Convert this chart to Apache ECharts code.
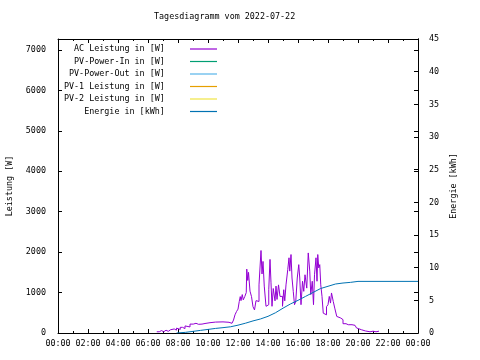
<!DOCTYPE html>
<html><head><meta charset="utf-8">
<script src="https://cdn.jsdelivr.net/npm/echarts@6/dist/echarts.min.js"></script>
<style>html,body{margin:0;padding:0;background:#fff}#c{width:480px;height:360px}</style>
</head><body><div id="c"></div>
<script>
const chartTitle = 'Tagesdiagramm vom 2022-07-22';
const xTickLabels = ['00:00','02:00','04:00','06:00','08:00','10:00','12:00','14:00','16:00','18:00','20:00','22:00','00:00'];
const seriesNames = ['AC Leistung in [W]','PV-Power-In in [W]','PV-Power-Out in [W]','PV-1 Leistung in [W]','PV-2 Leistung in [W]','Energie in [kWh]'];
const seriesColors = ['#9400d3','#009e73','#56b4e9','#e69f00','#f0e442','#0072b2'];
const leftAxisName = 'Leistung [W]';
const rightAxisName = 'Energie [kWh]';

const acTimes = ['06:35','06:45','06:54','07:03','07:12','07:21','07:30','07:36','07:45','07:54','08:01','08:09','08:18','08:28','08:36','08:48','09:01','09:12','09:22','09:36','09:48','10:08','10:30','11:00','11:24','11:30','11:36','11:42','11:48','11:54','12:00','12:05','12:09','12:12','12:17','12:21','12:27','12:33','12:35','12:39','12:42','12:48','12:54','13:00','13:06','13:12','13:18','13:24','13:32','13:36','13:40','13:45','13:52','13:57','14:03','14:08','14:12','14:16','14:21','14:28','14:32','14:36','14:42','14:48','14:58','15:03','15:07','15:12','15:19','15:24','15:27','15:32','15:36','15:41','15:46','15:51','15:57','16:03','16:07','16:12','16:18','16:23','16:28','16:35','16:41','16:47','16:51','16:57','17:02','17:06','17:12','17:16','17:19','17:23','17:27','17:31','17:36','17:41','17:48','17:54','18:00','18:05','18:10','18:14','18:21','18:27','18:35','18:42','18:51','19:00','19:12','19:21','19:28','19:36','19:48','19:54','20:01','20:14','20:30','20:48','21:00','21:12','21:24'];
const acPower = [30,60,30,70,40,80,50,100,70,120,90,140,110,175,150,220,240,215,220,235,255,270,275,265,270,240,250,320,450,530,590,780,900,800,950,820,900,1000,1580,1300,1500,1035,900,650,570,800,780,1190,2040,1460,1770,1160,660,700,1070,1820,1240,660,1100,795,1160,830,1190,905,660,1070,795,1190,1570,1860,1530,1940,1360,1030,700,780,1360,1690,1360,700,1280,1030,1440,1110,1980,1530,950,1280,700,1440,1860,1280,1940,1610,1690,1190,905,490,450,650,700,905,740,990,780,615,410,370,330,230,205,165,205,190,150,125,80,50,30,45,30,45,30];

const energyTimes = ['07:54','08:30','09:00','09:30','10:00','10:30','11:00','11:30','12:00','12:30','13:00','13:30','14:00','14:30','15:00','15:30','16:00','16:30','17:00','17:30','18:00','18:30','19:00','19:30','20:00','24:00'];
const energyValues = [0,0.1,0.25,0.4,0.55,0.7,0.82,0.95,1.2,1.5,1.85,2.15,2.55,3.1,3.8,4.45,5.0,5.6,6.2,6.8,7.15,7.5,7.65,7.75,7.9,7.9];

const emptyValues = [];

function toHours(s){ const p = s.split(':'); return (+p[0]) + (+p[1])/60; }
function pairs(times, vals){ return times.map((t,i)=>[toHours(t), vals[i]]); }

const FONT = 'DejaVu Sans Mono';
const FS = 8.4;
const txt = {fontFamily: FONT, fontSize: FS, color: '#000'};

const chart = echarts.init(document.getElementById('c'), null, {renderer:'canvas'});

const legendRows = [49, 61.5, 74, 86.5, 99, 111.5];
const legends = seriesNames.map((n,i)=>({
  data: [n],
  right: 263,
  top: legendRows[i] - 5,
  padding: 0,
  align: 'right',
  orient: 'horizontal',
  itemWidth: 27,
  itemHeight: 1.2,
  icon: 'rect',
  selectedMode: false,
  formatter: name => name + '    ',
  textStyle: {fontFamily: FONT, fontSize: FS, color: '#000', lineHeight: 10}
}));

const lineStyle = (c)=>({color: c, width: 1});
const baseSeries = (i, data, yIdx, step) => ({
  name: seriesNames[i], type: 'line', data: data, yAxisIndex: yIdx, xAxisIndex: 0,
  showSymbol: false, symbol: 'none', step: step, color: seriesColors[i],
  lineStyle: lineStyle(seriesColors[i]), itemStyle: {color: seriesColors[i]},
  animation: false, emphasis: {disabled: true}
});

const xBase = {
  type: 'value', min: 0, max: 24, interval: 2,
  axisLine: {show: true, onZero: false, lineStyle: {color: '#000', width: 1}},
  axisTick: {show: true, inside: true, length: 4, lineStyle: {color: '#000'}},
  minorTick: {show: true, splitNumber: 2, length: 2, lineStyle: {color: '#000'}},
  splitLine: {show: false}
};
const yBase = {
  type: 'value', splitLine: {show: false},
  axisLine: {show: true, onZero: false, lineStyle: {color: '#000', width: 1}},
  axisTick: {show: true, inside: true, length: 4, lineStyle: {color: '#000'}}
};

chart.setOption({
  animation: false,
  backgroundColor: '#fff',
  title: {text: chartTitle, left: 154, top: 13, padding: 0, textStyle: {fontFamily: FONT, fontSize: FS, fontWeight: 'normal', color: '#000'}},
  legend: legends,
  grid: {left: 58, right: 62, top: 39, bottom: 27, containLabel: false, outerBoundsMode: 'none'},
  xAxis: [
    Object.assign({}, xBase, {position: 'bottom',
      axisLabel: Object.assign({}, txt, {margin: 7, formatter: v => xTickLabels[Math.round(v/2)] || ''})}),
    Object.assign({}, xBase, {position: 'top', axisLabel: {show: false}})
  ],
  yAxis: [
    Object.assign({}, yBase, {position: 'left', min: 0, max: 7270, interval: 1000,
      name: leftAxisName, nameLocation: 'middle', nameRotate: 90, nameGap: 44,
      nameTextStyle: {fontFamily: FONT, fontSize: FS, color: '#000'},
      axisLabel: Object.assign({}, txt, {margin: 12, formatter: v => (v % 1000 === 0 ? String(v) : '')})}),
    Object.assign({}, yBase, {position: 'right', min: 0, max: 45, interval: 5,
      name: rightAxisName, nameLocation: 'middle', nameRotate: 90, nameGap: 30,
      nameTextStyle: {fontFamily: FONT, fontSize: FS, color: '#000'},
      axisLabel: Object.assign({}, txt, {margin: 11})}),
    Object.assign({}, yBase, {position: 'right', min: 0, max: 7270, interval: 1000, axisLabel: {show: false}})
  ],
  series: [
    baseSeries(0, pairs(acTimes, acPower), 0, 'end'),
    baseSeries(1, emptyValues, 0, false),
    baseSeries(2, emptyValues, 0, false),
    baseSeries(3, emptyValues, 0, false),
    baseSeries(4, emptyValues, 0, false),
    baseSeries(5, pairs(energyTimes, energyValues), 1, false)
  ]
});
</script></body></html>
